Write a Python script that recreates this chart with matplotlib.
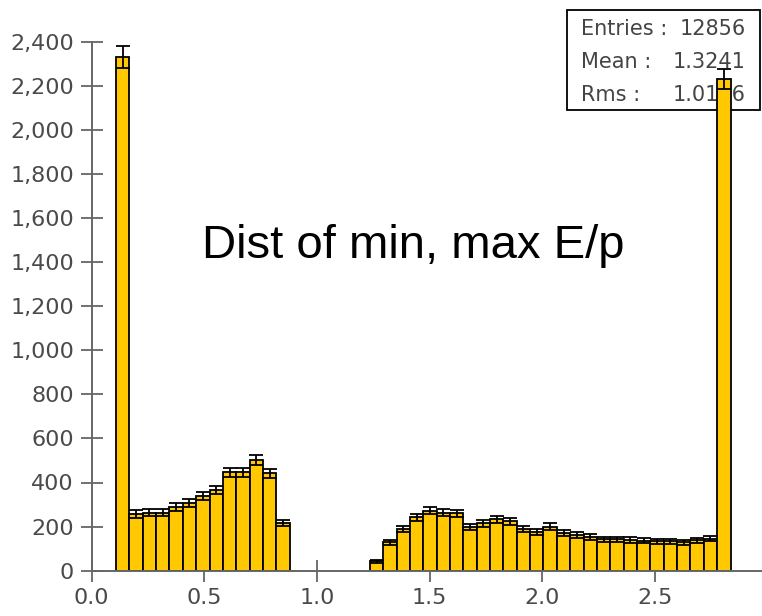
import numpy as np
import matplotlib.pyplot as plt
from matplotlib.patches import Rectangle
from matplotlib.ticker import FuncFormatter

plt.rcParams["font.family"] = ["DejaVu Sans"]

# histogram of min/max E/p, fixed binning
bin_lo, bin_hi = 0.108, 2.836
counts = np.array([
    2330, 257, 262, 262, 289, 307, 340, 367, 446, 446, 504, 442, 217,
    0, 0, 0, 0, 0, 0,
    42, 129, 190, 243, 272, 263, 260, 197, 215, 233, 224, 188,
    177, 200, 170, 162, 152, 143, 143, 139, 135, 133, 133, 128, 137, 145,
    2230,
], dtype=float)

stat_names = ["Entries :", "Mean :", "Rms :"]
stat_values = ["12856", "1.3241", "1.0146"]
title = "Dist of min, max E/p"

xticks = [0.0, 0.5, 1.0, 1.5, 2.0, 2.5]
yticks = np.arange(0, 2401, 200)

W, H = 762, 616
fig = plt.figure(figsize=(W / 100, H / 100), dpi=100)
ax = fig.add_axes([91.7 / W, 45.3 / H, 669 / W, 529.2 / H])

edges = np.linspace(bin_lo, bin_hi, len(counts) + 1)
centers = 0.5 * (edges[:-1] + edges[1:])
width = edges[1] - edges[0]
filled = counts > 0

ax.bar(centers[filled], counts[filled], width=width, color="#FFC800",
       edgecolor="black", linewidth=1.3, zorder=2)
ax.errorbar(centers[filled], counts[filled], yerr=np.sqrt(counts[filled]),
            fmt="none", ecolor="black", elinewidth=1.3, capsize=4.8,
            capthick=1.3, zorder=3)

ax.set_xlim(0, 2.97)
ax.set_ylim(0, 2400)
ax.set_xticks(xticks)
ax.set_yticks(yticks)
ax.xaxis.set_major_formatter(FuncFormatter(lambda v, p: f"{v:.1f}"))
ax.yaxis.set_major_formatter(FuncFormatter(lambda v, p: f"{int(v):,}"))

axis_grey = "#666666"
for side in ("top", "right"):
    ax.spines[side].set_visible(False)
for side in ("left", "bottom"):
    ax.spines[side].set_color(axis_grey)
    ax.spines[side].set_linewidth(1.4)
ax.tick_params(direction="inout", length=15.5, width=1.3, color=axis_grey,
               labelsize=16, labelcolor="#4a4a4a", pad=5)

ax.text(0.481, 0.613, title, transform=ax.transAxes, fontsize=34,
        family=["Liberation Sans", "DejaVu Sans"],
        ha="center", va="center", color="black")

# statistics box in the upper right corner
box = Rectangle((566.7 / W, 1 - 110 / H), (760 - 566.7) / W, 100 / H,
                transform=fig.transFigure, facecolor="white",
                edgecolor="black", linewidth=1.3, clip_on=False, zorder=1)
ax.add_patch(box)
for i, (name, val) in enumerate(zip(stat_names, stat_values)):
    y = 1 - (29 + 33 * i) / H
    ax.text(581 / W, y, name, transform=fig.transFigure, fontsize=15,
            color="#444444", ha="left", va="center", zorder=1.5, clip_on=False)
    ax.text(746 / W, y, val, transform=fig.transFigure, fontsize=15,
            color="#444444", ha="right", va="center", zorder=1.5, clip_on=False)

fig.savefig("out.png", dpi=100)
